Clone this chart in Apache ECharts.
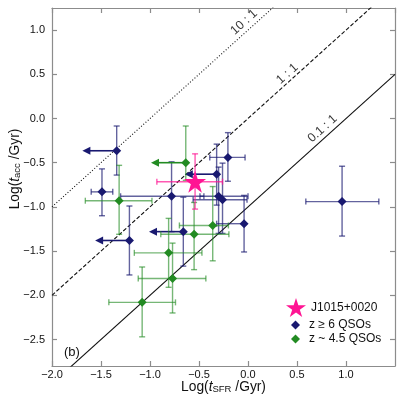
<!DOCTYPE html>
<html>
<head>
<meta charset="utf-8">
<script src="https://cdn.jsdelivr.net/npm/echarts@6/dist/echarts.min.js"></script>
<style>html,body{margin:0;padding:0;background:#fff}#chart{width:399px;height:399px}</style>
</head>
<body>
<div id="chart"></div>
<script>
// z >= 6 QSOs (blue); xLim = tip of left arrow for upper limits
var qsoHiX   = [-1.34, -1.49, -1.21, -0.78, -0.66, -0.205, -0.32, -0.30, -0.26, -0.04, 0.96];
var qsoHiY   = [-0.365, -0.83, -1.38, -0.88, -1.28, -0.44, -0.63, -0.88, -0.92, -1.19, -0.94];
var qsoHiXLo = [null, -1.60, null, -1.30, null, -0.39, null, -0.49, -0.56, -0.32, 0.59];
var qsoHiXHi = [null, -1.38, null, -0.45, null, -0.03, null, 0.0, -0.01, -0.04, 1.335];
var qsoHiYLo = [-0.64, -1.10, -1.77, -1.28, -1.67, -0.71, -0.98, -1.30, -1.30, -1.51, -1.33];
var qsoHiYHi = [-0.085, -0.57, -0.99, -0.49, -0.89, -0.16, -0.29, -0.55, -0.505, -0.87, -0.54];
var qsoHiXLim = [-1.69, null, -1.56, null, -1.01, null, -0.645, null, null, null, null];

// z ~ 4.5 QSOs (green)
var qsoMidX   = [-1.315, -0.635, -0.81, -0.77, -1.08, -0.55, -0.36];
var qsoMidY   = [-0.93, -0.50, -1.52, -1.81, -2.08, -1.31, -1.21];
var qsoMidXLo = [-1.66, null, -1.16, -1.12, -1.42, -0.89, -0.70];
var qsoMidXHi = [-0.98, null, -0.47, -0.43, -0.74, -0.195, -0.20];
var qsoMidYLo = [-1.31, -0.70, -1.91, -2.20, -2.47, -1.71, -1.61];
var qsoMidYHi = [-0.53, -0.085, -1.13, -1.41, -1.68, -0.95, -0.77];
var qsoMidXLim = [null, -0.99, null, null, null, null, null];

// J1015+0020
var targetX = [-0.54], targetY = [-0.715];
var targetXLo = [-0.93], targetXHi = [-0.26];
var targetYLo = [-1.025], targetYHi = [-0.40];
var targetXLim = [null];

// t_acc : t_SFR reference lines (log offsets) and their labels
var ratioNames   = ['10 : 1', '1 : 1', '0.1 : 1'];
var ratioOffsets = [1, 0, -1];
var ratioLineType = [[1, 2], [4, 2], 'solid'];
var ratioLabelX  = [-0.04, 0.40, 0.76];
var ratioLabelY  = [1.09, 0.505, -0.115];

var yTicks = [-2.5, -2.0, -1.5, -1.0, -0.5, 0.0, 0.5, 1.0];

var X_MIN = -2.0, X_MAX = 1.5, Y_MIN = -2.8, Y_MAX = 1.25;
var FONT = 'Liberation Sans';
var STAR = 'path://M50,0 L61.23,34.55 L97.55,34.55 L68.17,55.9 L79.39,90.45 L50,69.1 L20.61,90.45 L31.83,55.9 L2.45,34.55 L38.77,34.55 Z';

var fmt = function (v) {
    return v.toFixed(1).replace('-', '\u2212');
};

var errorBars = function (xs, ys, xlo, xhi, ylo, yhi, lim, barColor, arrowColor) {
    return function (params, api) {
        var i = params.dataIndex;
        var p = api.coord([xs[i], ys[i]]);
        var kids = [];
        var st = {stroke: barColor, lineWidth: 1.4};
        var seg = function (a, b, s) {
            kids.push({type: 'line', shape: {x1: a[0], y1: a[1], x2: b[0], y2: b[1]}, style: s || st});
        };
        if (xlo[i] != null) {
            var l = api.coord([xlo[i], ys[i]]), r = api.coord([xhi[i], ys[i]]);
            seg(l, r);
            seg([l[0], l[1] - 3], [l[0], l[1] + 3]);
            seg([r[0], r[1] - 3], [r[0], r[1] + 3]);
        }
        if (ylo[i] != null) {
            var b = api.coord([xs[i], ylo[i]]), t = api.coord([xs[i], yhi[i]]);
            seg(b, t);
            seg([b[0] - 3, b[1]], [b[0] + 3, b[1]]);
            seg([t[0] - 3, t[1]], [t[0] + 3, t[1]]);
        }
        if (lim[i] != null) {
            var a = api.coord([lim[i], ys[i]]);
            seg(p, [a[0] + 6, a[1]], {stroke: arrowColor, lineWidth: 1.6});
            kids.push({type: 'polygon', shape: {points: [[a[0], a[1]], [a[0] + 8, a[1] - 4], [a[0] + 8, a[1] + 4]]},
                style: {fill: arrowColor}});
        }
        return {type: 'group', children: kids};
    };
};

var pts = function (xs, ys) {
    return xs.map(function (x, i) { return [x, ys[i]]; });
};

var series = [];
ratioOffsets.forEach(function (off, k) {
    series.push({
        type: 'line', silent: true, symbol: 'none', z: 1,
        data: [[X_MIN, X_MIN + off], [X_MAX, X_MAX + off]],
        lineStyle: {color: '#111', width: 1.1, type: ratioLineType[k]}
    });
});
series.push({
    type: 'scatter', silent: true, symbolSize: 0, z: 2,
    data: ratioNames.map(function (n, k) { return {name: n, value: [ratioLabelX[k], ratioLabelY[k]]}; }),
    label: {show: true, position: 'inside', rotate: 42, formatter: '{b}', color: '#000',
        fontFamily: FONT, fontSize: 12.5}
});
series.push({
    type: 'custom', z: 3, silent: true, clip: true,
    renderItem: errorBars(qsoHiX, qsoHiY, qsoHiXLo, qsoHiXHi, qsoHiYLo, qsoHiYHi, qsoHiXLim,
        'rgba(25,25,112,0.68)', '#191970'),
    data: pts(qsoHiX, qsoHiY)
});
series.push({
    type: 'custom', z: 3, silent: true, clip: true,
    renderItem: errorBars(qsoMidX, qsoMidY, qsoMidXLo, qsoMidXHi, qsoMidYLo, qsoMidYHi, qsoMidXLim,
        'rgba(34,139,34,0.62)', '#228b22'),
    data: pts(qsoMidX, qsoMidY)
});
series.push({
    name: 'z \u2265 6 QSOs', type: 'scatter', symbol: 'diamond', symbolSize: 9, z: 4,
    itemStyle: {color: '#191970', opacity: 1}, data: pts(qsoHiX, qsoHiY)
});
series.push({
    name: 'z ~ 4.5 QSOs', type: 'scatter', symbol: 'diamond', symbolSize: 9, z: 4,
    itemStyle: {color: '#228b22', opacity: 1}, data: pts(qsoMidX, qsoMidY)
});
series.push({
    type: 'custom', z: 5, silent: true, clip: true,
    renderItem: errorBars(targetX, targetY, targetXLo, targetXHi, targetYLo, targetYHi, targetXLim,
        'rgba(255,20,147,0.7)', '#ff1493'),
    data: pts(targetX, targetY)
});
series.push({
    name: 'J1015+0020', type: 'scatter', symbol: STAR, symbolSize: 22, z: 6,
    itemStyle: {color: '#ff1493', opacity: 1}, data: pts(targetX, targetY)
});

var axisCommon = {
    type: 'value',
    axisLine: {show: true, onZero: false, lineStyle: {color: '#8c8c8c', width: 1.2}},
    axisTick: {show: true, inside: true, length: 5, lineStyle: {color: '#8c8c8c', width: 1.2}},
    splitLine: {show: false}
};
var labelStyle = {color: '#111', fontFamily: FONT, fontSize: 11, formatter: fmt};
var legendText = {color: '#111', fontFamily: FONT, fontSize: 12};
var nameRich = {
    n: {fontFamily: FONT, fontSize: 13.8, color: '#111', lineHeight: 16, verticalAlign: 'bottom'},
    i: {fontFamily: FONT, fontSize: 13.8, color: '#111', fontStyle: 'italic', lineHeight: 16, verticalAlign: 'bottom'},
    s: {fontFamily: FONT, fontSize: 9.5, color: '#111', lineHeight: 6, verticalAlign: 'bottom'}
};

var option = {
    animation: false,
    backgroundColor: '#fff',
    grid: {left: 52, right: 4, top: 8, bottom: 33, containLabel: false, outerBoundsMode: 'none'},
    title: {text: '(b)', left: 59, top: 341,
        textStyle: {fontFamily: FONT, fontSize: 13, fontWeight: 'normal', color: '#111'}},
    legend: [
        {data: ['J1015+0020'], left: 286, top: 298, padding: 0, icon: STAR, itemWidth: 20, itemHeight: 20,
            selectedMode: false, textStyle: legendText},
        {data: ['z \u2265 6 QSOs'], left: 291, top: 319, padding: 0, icon: 'diamond', itemWidth: 9, itemHeight: 9,
            selectedMode: false, textStyle: Object.assign({padding: [0, 0, 0, 4]}, legendText)},
        {data: ['z ~ 4.5 QSOs'], left: 291, top: 333, padding: 0, icon: 'diamond', itemWidth: 9, itemHeight: 9,
            selectedMode: false, textStyle: Object.assign({padding: [0, 0, 0, 4]}, legendText)}
    ],
    xAxis: [
        Object.assign({}, axisCommon, {
            min: X_MIN, max: X_MAX, interval: 0.5, position: 'bottom',
            axisLabel: Object.assign({}, labelStyle, {margin: 3, showMaxLabel: false}),
            name: '{n|Log(}{i|t}{s|SFR}{n| /Gyr)}', nameLocation: 'middle', nameGap: 12,
            nameMoveOverlap: false,
            nameTextStyle: {rich: nameRich}
        }),
        Object.assign({}, axisCommon, {
            min: X_MIN, max: X_MAX, interval: 0.5, position: 'top', axisLabel: {show: false}
        })
    ],
    yAxis: [
        Object.assign({}, axisCommon, {
            min: Y_MIN, max: Y_MAX, position: 'left',
            axisTick: Object.assign({}, axisCommon.axisTick, {customValues: yTicks}),
            axisLabel: Object.assign({}, labelStyle, {margin: 7, customValues: yTicks}),
            name: '{n|Log(}{i|t}{s|acc}{n| /Gyr)}', nameLocation: 'middle', nameGap: 30, nameRotate: 90,
            nameMoveOverlap: false,
            nameTextStyle: {rich: nameRich, padding: [0, 0, 0, 36]}
        }),
        Object.assign({}, axisCommon, {
            min: Y_MIN, max: Y_MAX, position: 'right',
            axisTick: Object.assign({}, axisCommon.axisTick, {customValues: yTicks}),
            axisLabel: {show: false}
        })
    ],
    series: series
};

var myChart = echarts.init(document.getElementById('chart'), null, {renderer: 'canvas'});
myChart.setOption(option);
</script>
</body>
</html>
